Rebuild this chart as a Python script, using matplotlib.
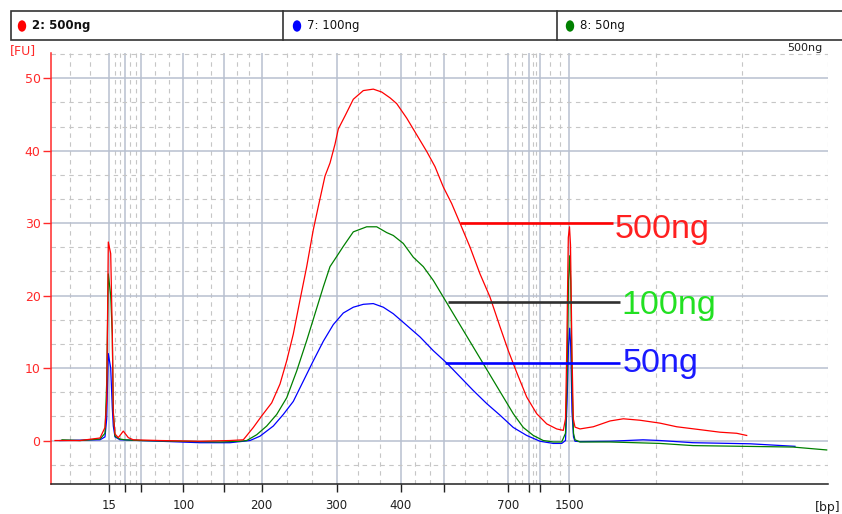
import matplotlib
matplotlib.use("Agg")
import matplotlib.pyplot as plt
from matplotlib.patches import Rectangle, Ellipse
from matplotlib.lines import Line2D

# electropherogram traces, x = migration time [s], y = fluorescence [FU]
red_trace = [(40.4, 0.0), (42.9, 0.0), (44.9, 0.35), (45.4, 1.8), (45.57, 5.5), (45.73, 27.4),
             (45.97, 25.8), (46.13, 14.8), (46.23, 3.7), (46.4, 0.9), (46.73, 0.4), (47.23, 1.3),
             (47.73, 0.4), (48.23, 0.1), (50.9, 0.0), (54.9, -0.1), (57.9, 0.0), (59.23, 0.1),
             (60.23, 1.8), (61.07, 3.4), (62.07, 5.2), (62.9, 7.8), (63.57, 11.0), (64.23, 14.7),
             (64.9, 19.4), (65.57, 24.0), (66.23, 29.1), (66.73, 32.3), (67.4, 36.5), (67.9, 38.3),
             (68.4, 40.9), (68.73, 43.0), (69.4, 44.8), (70.23, 47.1), (71.23, 48.3), (72.23, 48.5),
             (73.07, 48.1), (73.9, 47.3), (74.57, 46.5), (75.57, 44.5), (76.57, 42.2), (77.57, 39.9),
             (78.4, 37.8), (79.23, 35.0), (80.07, 32.7), (80.9, 30.0), (81.9, 26.7), (82.9, 23.0),
             (83.9, 19.8), (84.9, 15.7), (85.73, 12.4), (86.57, 9.4), (87.57, 6.0), (88.57, 3.7),
             (89.57, 2.3), (90.57, 1.6), (91.23, 1.4), (91.45, 3.0), (91.57, 12.0), (91.73, 28.0),
             (91.85, 29.5), (91.95, 27.0), (92.1, 12.0), (92.23, 3.0), (92.4, 1.85), (92.9, 1.6),
             (94.23, 1.9), (95.9, 2.7), (97.23, 3.0), (98.9, 2.8), (100.9, 2.4), (102.57, 1.9),
             (104.9, 1.5), (106.9, 1.15), (108.57, 1.0), (109.57, 0.7)]

green_trace = [(41.1, 0.1), (42.9, 0.0), (44.9, 0.2), (45.4, 1.0), (45.57, 8.0), (45.73, 23.0),
               (45.97, 20.0), (46.13, 14.5), (46.23, 4.0), (46.4, 0.6), (46.9, 0.2), (47.4, 0.1),
               (48.9, 0.0), (52.9, -0.1), (56.9, -0.2), (58.9, -0.1), (59.57, 0.0), (60.57, 0.8),
               (61.57, 2.0), (62.57, 3.6), (63.57, 5.9), (64.57, 9.6), (65.57, 13.8), (66.4, 17.5),
               (67.23, 21.2), (67.9, 24.0), (68.57, 25.4), (69.23, 26.8), (70.23, 28.8), (71.57, 29.5),
               (72.57, 29.5), (73.57, 28.7), (74.23, 28.3), (75.23, 27.2), (76.23, 25.3), (77.23, 24.0),
               (78.23, 22.1), (79.23, 19.8), (80.23, 17.5), (81.23, 15.2), (82.23, 12.9), (83.23, 10.6),
               (84.23, 8.3), (85.23, 6.0), (86.23, 3.7), (87.23, 1.8), (88.23, 0.7), (89.23, 0.0),
               (90.23, -0.2), (91.07, -0.2), (91.45, 1.0), (91.6, 8.0), (91.75, 22.0), (91.87, 25.5),
               (91.97, 22.0), (92.1, 8.0), (92.25, 1.0), (92.4, 0.1), (92.9, -0.2), (95.9, -0.2),
               (100.9, -0.4), (104.2, -0.7), (109.2, -0.8), (114.2, -0.9), (117.57, -1.3)]

blue_trace = [(40.9, 0.0), (44.9, 0.1), (45.4, 0.5), (45.57, 3.0), (45.73, 12.0), (45.97, 10.0),
              (46.13, 4.5), (46.23, 2.0), (46.4, 0.5), (46.9, 0.1), (48.9, 0.0), (52.9, -0.2),
              (54.9, -0.3), (57.9, -0.3), (59.9, 0.0), (60.9, 0.6), (62.23, 2.0), (63.23, 3.6),
              (64.23, 5.4), (65.23, 8.2), (66.23, 11.0), (67.23, 13.7), (68.23, 16.0), (69.23, 17.6),
              (70.23, 18.4), (71.23, 18.8), (72.23, 18.9), (73.23, 18.4), (74.23, 17.5), (75.57, 15.9),
              (76.9, 14.3), (78.23, 12.4), (79.57, 10.7), (80.9, 8.8), (82.23, 6.9), (83.57, 5.1),
              (84.9, 3.5), (86.23, 1.8), (87.57, 0.7), (88.9, -0.1), (90.23, -0.4), (91.07, -0.4),
              (91.45, 0.0), (91.6, 5.0), (91.75, 13.0), (91.87, 15.5), (91.97, 13.0), (92.1, 4.0),
              (92.25, 0.5), (92.4, -0.1), (92.9, -0.15), (95.9, -0.1), (99.2, 0.1), (100.9, 0.0),
              (104.2, -0.3), (109.9, -0.45), (114.4, -0.8)]

# ladder calibration (bp -> migration time)
ladder_bp = [15, 25, 50, 100, 150, 200, 300, 400, 500, 700, 850, 1000, 1500]
ladder_time = [45.83, 47.4, 49.0, 53.23, 57.33, 61.07, 68.57, 75.0, 79.3, 85.73, 87.83, 88.9, 91.83]
labeled_bp = [15, 100, 200, 300, 400, 700, 1500]

legend_labels = ["2: 500ng", "7: 100ng", "8: 50ng"]
legend_colors = ["#ff0000", "#0000ff", "#008000"]

# hand-drawn annotation lines: (x start, x end, FU level, text, line colour, text colour)
annotations = [(80.9, 96.2, 30.0, "500ng", "#ff0000", "#ff2020"),
               (79.7, 96.9, 19.1, "100ng", "#303030", "#22e022"),
               (79.4, 96.9, 10.7, "50ng", "#0000ff", "#1a1aff")]

W, H = 842, 514
x_min, x_max = 40.0, 117.7
y_min, y_max = -6.0, 53.5


def fx(px):
    return px / W


def fy(py):
    return 1 - py / H


fig = plt.figure(figsize=(W / 100, H / 100), dpi=100)
fig.set_facecolor("white")
ax = fig.add_axes([fx(51), fy(484), 777 / W, 431.1 / H])

# grid
minor_x = []
edges = [x_min] + ladder_time + [x_max]
for a, b in zip(edges[:-1], edges[1:]):
    minor_x += [a + (b - a) / 3, a + 2 * (b - a) / 3]
minor_x.append(x_max)
ax.set_xticks(ladder_time)
ax.set_xticklabels([str(b) if b in labeled_bp else "" for b in ladder_bp])
ax.set_xticks(minor_x, minor=True)

ax.set_yticks(range(0, 51, 10))
ax.set_yticks([k * 10 / 3 for k in range(-1, 17) if k % 3 != 0], minor=True)

ax.set_axisbelow(True)
ax.grid(which="major", color="#b8c0d0", lw=1.1, ls="-")
ax.grid(which="minor", color="#c6c6c6", lw=0.8, ls=(0, (4, 4)))

for trace, col, z in [(blue_trace, "#0000ff", 3), (green_trace, "#008000", 4), (red_trace, "#ff0000", 5)]:
    xs = [p[0] for p in trace]
    ys = [p[1] for p in trace]
    ax.plot(xs, ys, color=col, lw=0.9, zorder=z)

for x0, x1, lvl, txt, lcol, tcol in annotations:
    ax.plot([x0, x1], [lvl, lvl], color=lcol, lw=1.9, zorder=6, solid_capstyle="butt")

ax.text(96.4, 27.9, "500ng", color="#ff2020", fontsize=24.5, family="Liberation Sans", va="baseline", zorder=7)
ax.text(97.05, 17.5, "100ng", color="#22e022", fontsize=24.5, family="Liberation Sans", va="baseline", zorder=7)
ax.text(97.15, 9.42, "50ng", color="#1a1aff", fontsize=24.5, family="Liberation Sans", va="baseline", zorder=7)

ax.set_xlim(x_min, x_max)
ax.set_ylim(y_min, y_max)

ax.spines["top"].set_visible(False)
ax.spines["right"].set_visible(False)
ax.spines["left"].set_color("#ff2a2a")
ax.spines["left"].set_linewidth(1.1)
ax.spines["bottom"].set_color("#202020")
ax.spines["bottom"].set_linewidth(1.1)

ax.tick_params(axis="x", which="major", direction="out", length=6, width=1, color="#202020",
               labelsize=8.5, pad=5, labelcolor="#202020")
ax.tick_params(axis="y", which="major", direction="out", length=6, width=1, color="#ff2a2a",
               labelsize=9, pad=1.5, labelcolor="#ff2a2a")
ax.tick_params(which="minor", length=0)

# axis captions
fig.text(fx(10), fy(51), "[FU]", color="#ff2a2a", fontsize=9, va="center", ha="left")
fig.text(fx(840), fy(507), "[bp]", color="#202020", fontsize=9, va="center", ha="right")
fig.text(fx(822), fy(48), "500ng", color="#202020", fontsize=8, va="center", ha="right")

# legend strip
fig.add_artist(Rectangle((fx(11), fy(40)), fx(842) - fx(11) + 0.01, fy(11) - fy(40),
                         transform=fig.transFigure, facecolor="white", edgecolor="#333333", lw=1.2))
for xd in [283, 557]:
    fig.add_artist(Line2D([fx(xd), fx(xd)], [fy(40), fy(11)], transform=fig.transFigure,
                          color="#333333", lw=1.2))
for i, (lab, col) in enumerate(zip(legend_labels, legend_colors)):
    x0 = [22, 297, 570][i]
    fig.add_artist(Ellipse((fx(x0), fy(26)), 7 / W, 10 / H, transform=fig.transFigure, color=col))
    fig.text(fx(x0 + 10), fy(26), lab, color="#111111", fontsize=8.5, va="center", ha="left",
             fontweight="bold" if i == 0 else "normal")

plt.savefig("out.png", dpi=100)
plt.close()
